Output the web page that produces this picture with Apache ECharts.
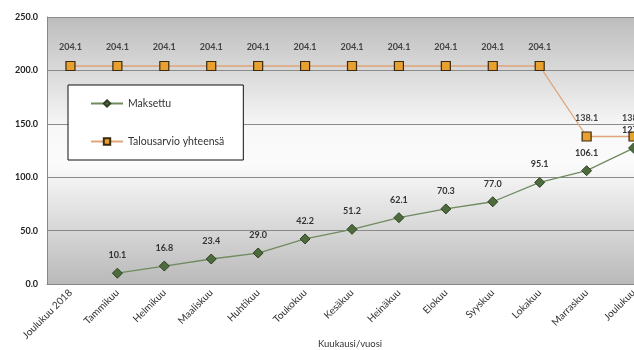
<!DOCTYPE html>
<html><head><meta charset="utf-8">
<script src="https://cdn.jsdelivr.net/npm/echarts@6/dist/echarts.min.js"></script>
<style>html,body{margin:0;padding:0;background:#fff}#c{width:634px;height:350px}</style>
</head><body><div id="c"></div>
<script>
var categories = ["Joulukuu 2018","Tammikuu","Helmikuu","Maaliskuu","Huhtikuu","Toukokuu","Kesäkuu","Heinäkuu","Elokuu","Syyskuu","Lokakuu","Marraskuu","Joulukuu"];
var maksettu = [null,10.1,16.8,23.4,29.0,42.2,51.2,62.1,70.3,77.0,95.1,106.1,127.3];
var talousarvio = [204.1,204.1,204.1,204.1,204.1,204.1,204.1,204.1,204.1,204.1,204.1,138.1,138.1];
var yTicks = [0,50,100,150,200,250];
var seriesNames = ["Maksettu","Talousarvio yhteensä"];
var xTitle = "Kuukausi/vuosi";

var font = "Lato";
var chart = echarts.init(document.getElementById('c'));
chart.setOption({
  animation:false,
  textStyle:{fontFamily:font},
  grid:{left:47, top:17, width:610, bottom:66, show:true, borderWidth:0,
    outerBoundsMode:'none', containLabel:false,
    backgroundColor:{type:'linear',x:0,y:0,x2:0,y2:1,colorStops:[
      {offset:0,color:'#bdbdbd'},{offset:0.42,color:'#f8f8f8'},{offset:0.55,color:'#fbfbfb'},{offset:1,color:'#b9b9b9'}]}},
  legend:{orient:'vertical', left:68, top:85,
    padding:[13,19,13,22], itemGap:27, itemWidth:32, itemHeight:8,
    backgroundColor:'#fff', borderColor:'#111', borderWidth:1,
    textStyle:{fontSize:10.5,color:'#333',fontFamily:font},
    data:seriesNames},
  xAxis:{type:'category', data:categories, boundaryGap:true,
    axisLine:{lineStyle:{color:'#888'}}, axisTick:{show:false},
    axisLabel:{rotate:45, fontSize:10, color:'#333', margin:7, interval:0}},
  yAxis:{type:'value', min:yTicks[0], max:yTicks[yTicks.length-1], interval:50,
    axisLine:{show:true,lineStyle:{color:'#888'}}, axisTick:{show:false},
    splitLine:{lineStyle:{color:'#8a8a8a',width:1}},
    axisLabel:{formatter:function(v){return v.toFixed(1);}, fontSize:9, color:'#222', fontWeight:'bold', margin:9}},
  graphic:[{type:'text', left:318, top:339, style:{text:xTitle, fontSize:9.5, fill:'#333', fontFamily:font}}],
  series:[
    {name:seriesNames[0], type:'line', data:maksettu, symbol:'diamond', symbolSize:10,
      lineStyle:{color:'#6f8a5e',width:1.3}, itemStyle:{color:'#4d6b3c',borderColor:'#2e4222',borderWidth:1},
      label:{show:true,position:'top',distance:8,fontSize:9,color:'#333',fontWeight:'bold',formatter:function(p){return p.value.toFixed(1);}}},
    {name:seriesNames[1], type:'line', data:talousarvio, symbol:'rect', symbolSize:9,
      lineStyle:{color:'#e0a57a',width:1.3}, itemStyle:{color:'#e8a030',borderColor:'#3a2a10',borderWidth:1.2},
      label:{show:true,position:'top',distance:9,fontSize:9,color:'#444',fontWeight:'bold',formatter:function(p){return p.value.toFixed(1);}}}
  ]
});
</script></body></html>
